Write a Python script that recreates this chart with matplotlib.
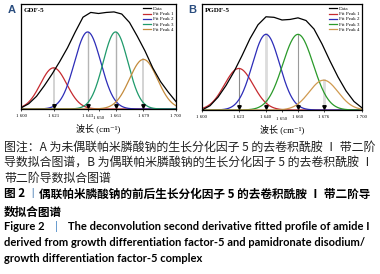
import numpy as np
import matplotlib
matplotlib.use("Agg")
import matplotlib.pyplot as plt

# wavenumber grid of the measured curves (cm-1)
wavenumber = [1600, 1605, 1610, 1615, 1620, 1625, 1630, 1635, 1640, 1645, 1650,
              1655, 1660, 1665, 1670, 1675, 1680, 1685, 1690, 1695, 1700]

data_gdf = [0.01, 0.05, 0.12, 0.22, 0.33, 0.45, 0.58, 0.73, 0.87, 0.915, 0.905,
            0.915, 0.92, 0.90, 0.82, 0.69, 0.55, 0.39, 0.26, 0.16, 0.07]
data_pgdf = [0.00, 0.04, 0.12, 0.23, 0.36, 0.51, 0.67, 0.80, 0.875, 0.87, 0.845,
             0.85, 0.865, 0.84, 0.76, 0.62, 0.46, 0.31, 0.18, 0.08, 0.02]

# fitted peaks: centre, height, width
peak_centres_gdf = [1621, 1643, 1661, 1679]
peak_heights_gdf = [0.39, 0.73, 0.73, 0.47]
peak_widths_gdf = [8.5, 8.5, 8.0, 9.0]

peak_centres_pgdf = [1623, 1640, 1660, 1676]
peak_heights_pgdf = [0.39, 0.71, 0.71, 0.28]
peak_widths_pgdf = [9.0, 8.5, 9.5, 9.0]

legend_labels = ['Data', 'Fit Peak 1', 'Fit Peak 2', 'Fit Peak 3', 'Fit Peak 4']

caption_lines = [
    '图注：A 为未偶联帕米膦酸钠的生长分化因子 5 的去卷积酰胺 Ⅰ 带二阶',
    '导数拟合图谱，B 为偶联帕米膦酸钠的生长分化因子 5 的去卷积酰胺 Ⅰ',
    '带二阶导数拟合图谱',
]
title_cn = ['图 2', '丨', '偶联帕米膦酸钠的前后生长分化因子 5 的去卷积酰胺 Ⅰ 带二阶导', '数拟合图谱']
title_en = ['Figure 2', '|', 'The deconvolution second derivative fitted profile of amide I',
            'derived from growth differentiation factor-5 and pamidronate disodium/',
            'growth differentiation factor-5 complex']

W, H = 380, 274
SERIF = ['Liberation Serif', 'Noto Sans CJK SC', 'DejaVu Sans']


def gauss(x, c, h, w):
    return h * np.exp(-(x - c) ** 2 / (2 * w ** 2))


def draw_panel(ax, name, data, centres, heights, widths, colors, vcolors, vwidths):
    x = np.linspace(1600, 1700, 401)
    for c, h, vc, vw in zip(centres, heights, vcolors, vwidths):
        ax.plot([c, c], [0, h], color=vc, lw=vw, zorder=1)
    handles = []
    for c, h, w, col in zip(centres, heights, widths, colors[1:]):
        handles.append(ax.plot(x, gauss(x, c, h, w), color=col, lw=0.9, zorder=2)[0])
    hd = ax.plot(wavenumber, data, color=colors[0], lw=0.9, zorder=3)[0]
    ax.plot(centres, [0.03] * len(centres), 'v', color='k', ms=2.5, zorder=4)
    ax.set_xlim(1600, 1700)
    ax.set_ylim(0, 0.995)
    ax.set_yticks([])
    ticks = [1600] + list(centres) + [1700]
    ax.set_xticks(ticks, [f'{t // 1000} {t % 1000:03d}' for t in ticks])
    ax.set_xticks([1650], ['1 650'], minor=True)
    ax.tick_params(axis='x', which='major', labelsize=3.5, length=1.5, width=0.5, pad=1.8)
    ax.tick_params(axis='x', which='minor', labelsize=3.5, length=1.5, width=0.5, pad=3.3)
    for lab in ax.get_xticklabels(minor=False) + ax.get_xticklabels(minor=True):
        lab.set_family(SERIF)
    for s in ax.spines.values():
        s.set_linewidth(0.9)
    ax.set_xlabel('波长 (cm⁻¹)', family=SERIF, fontsize=6.5, labelpad=2.5)
    ax.text(0.02, 0.965, name, transform=ax.transAxes, family='Liberation Serif',
            fontweight='bold', fontsize=5, va='top')
    ax.legend([hd] + handles, legend_labels, loc='upper right', frameon=False,
              prop={'family': 'Liberation Serif', 'size': 3.6}, handlelength=1.6,
              handletextpad=0.5, labelspacing=0.15, borderpad=0.2, borderaxespad=0.3)


def plot_figure():
    fig = plt.figure(figsize=(W / 100, H / 100), dpi=100)
    ax_a = fig.add_axes([21 / W, 1 - 109 / H, 155 / W, 105 / H])
    ax_b = fig.add_axes([202 / W, 1 - 110 / H, 160 / W, 106 / H])

    draw_panel(ax_a, 'GDF-5', data_gdf, peak_centres_gdf, peak_heights_gdf, peak_widths_gdf,
               ['k', '#c62a2f', '#2d2db8', '#1f9a6b', '#c48b3c'],
               ['#cccccc', '#b5b5b5', '#b0b0b0', '#cccccc'], [1.2, 1.0, 1.0, 1.2])
    draw_panel(ax_b, 'PGDF-5', data_pgdf, peak_centres_pgdf, peak_heights_pgdf, peak_widths_pgdf,
               ['k', '#c62a2f', '#2d2db8', '#2a9a2a', '#d09a50'],
               ['#8c8c8c', '#dcdcdc', '#9a9a9a', '#dcdcdc'], [0.8, 2.0, 0.8, 2.0])

    fig.text(12 / W, 1 - 10 / H, 'A', fontsize=8, fontweight='bold', color='#2a4d7f',
             va='center', ha='center', family='Liberation Sans')
    fig.text(192 / W, 1 - 10 / H, 'B', fontsize=8, fontweight='bold', color='#2a4d7f',
             va='center', ha='center', family='Liberation Sans')

    cjk = ['Noto Sans CJK SC', 'DejaVu Sans']
    for line, py in zip(caption_lines, [147, 162, 178]):
        fig.text(4 / W, 1 - py / H, line, family=cjk, fontsize=8.6, color='#222222', va='center')

    fig.text(4 / W, 1 - 194 / H, title_cn[0], family=cjk, fontsize=8.4, fontweight='bold', va='center')
    fig.text(32 / W, 1 - 194 / H, title_cn[1], family=cjk, fontsize=7.5, color='#4a7fb5',
             va='center', ha='center')
    fig.text(39 / W, 1 - 194 / H, title_cn[2], family=cjk, fontsize=8.4, fontweight='bold', va='center')
    fig.text(4 / W, 1 - 212 / H, title_cn[3], family=cjk, fontsize=8.4, fontweight='bold', va='center')

    en = ['Lato', 'DejaVu Sans']
    fig.text(4 / W, 1 - 227 / H, title_en[0], family=en, fontsize=8.0, fontweight='bold', va='center')
    fig.text(55 / W, 1 - 227 / H, title_en[1], family=en, fontsize=8.0, color='#3a7fc1', va='center')
    fig.text(68 / W, 1 - 227 / H, title_en[2], family=en, fontsize=8.0, fontweight='bold', va='center')
    fig.text(4 / W, 1 - 243 / H, title_en[3], family=en, fontsize=8.0, fontweight='bold', va='center')
    fig.text(4 / W, 1 - 259 / H, title_en[4], family=en, fontsize=8.0, fontweight='bold', va='center')

    fig.savefig('out.png', dpi=100)


if __name__ == '__main__':
    plot_figure()
